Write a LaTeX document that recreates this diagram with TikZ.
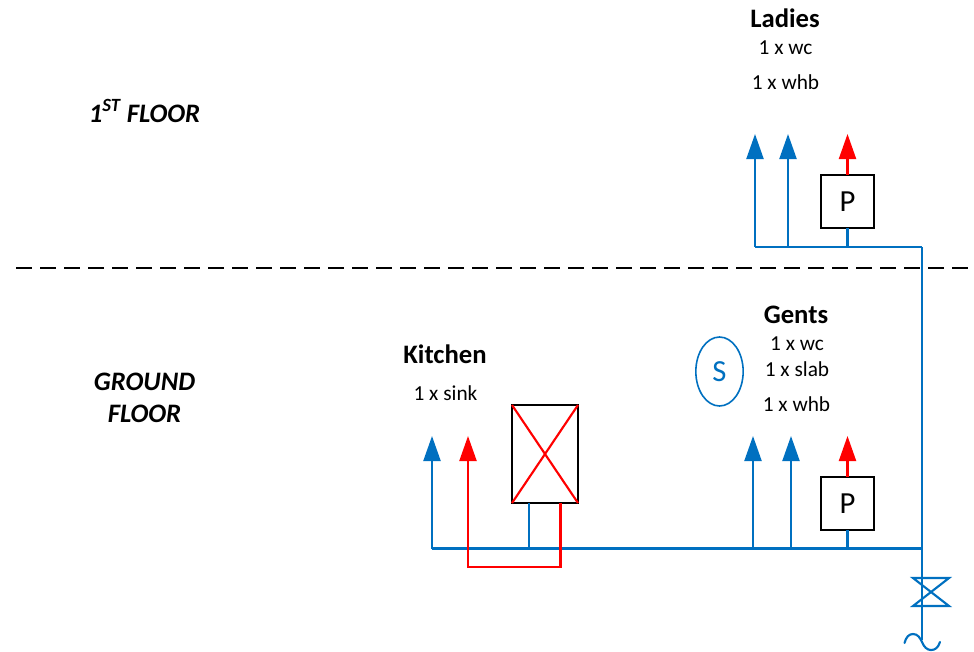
\documentclass[tikz,border=0pt]{standalone}
\usepackage{fontspec}
\setmainfont{Carlito}
\usetikzlibrary{arrows.meta,shapes.geometric}
\definecolor{pipeblue}{RGB}{0,112,192}
\definecolor{pipered}{RGB}{255,0,0}
\tikzset{
  coldpipe/.style={draw=pipeblue,line width=1.6pt,line join=miter},
  hotpipe/.style={draw=pipered,line width=1.6pt,line join=miter},
  coldrise/.style={coldpipe,-{Triangle[length=18.75pt,width=12.75pt,color=pipeblue]}},
  hotrise/.style={hotpipe,-{Triangle[length=18.75pt,width=12.75pt,color=pipered]}},
  pumpbox/.style={draw=black,line width=1.6pt,minimum width=39.75pt,minimum height=39.75pt,inner sep=0pt,outer sep=0pt,font=\fontsize{23}{25}\selectfont},
  heaterbox/.style={draw=black,line width=1.8pt,minimum width=49.5pt,minimum height=73.5pt,inner sep=0pt,outer sep=0pt},
  sensor/.style={draw=pipeblue,line width=1.2pt,ellipse,minimum width=35.5pt,minimum height=51.75pt,inner sep=0pt,outer sep=0pt,text=pipeblue,font=\fontsize{23}{25}\selectfont},
  roomtitle/.style={anchor=base,inner sep=0pt,font=\fontsize{20}{22}\selectfont\bfseries},
  fixture/.style={anchor=base,inner sep=0pt,font=\fontsize{16}{18}\selectfont},
  floorname/.style={anchor=base,inner sep=0pt,font=\fontsize{20}{22}\selectfont\bfseries\itshape},
}
\begin{document}
\begin{tikzpicture}[x=0.75pt,y=-0.75pt]
\useasboundingbox (0,0) rectangle (974,651);
% floor divider
\coordinate (divL) at (16,268);
\coordinate (divR) at (968,268);
\draw[black,line width=1.2pt,dash pattern=on 12pt off 6pt] (divL) -- (divR);
% floor labels
\node[floorname] (first) at (144.5,122) {1\textsuperscript{ST} FLOOR};
\node[floorname] (ground) at (144.5,390) {GROUND};
\node[floorname] (floor) at (144.5,422) {FLOOR};
% room labels
\node[roomtitle] (ladies) at (785,27) {Ladies};
\node[fixture] (lwc) at (785.5,54) {1 x wc};
\node[fixture] (lwhb) at (785.5,89) {1 x whb};
\node[roomtitle] (gents) at (796,323) {Gents};
\node[fixture] (gwc) at (797,350.5) {1 x wc};
\node[fixture] (gslab) at (797,376) {1 x slab};
\node[fixture] (gwhb) at (796.5,411) {1 x whb};
\node[roomtitle] (kitchen) at (445,363) {Kitchen};
\node[fixture] (ksink) at (445.5,400) {1 x sink};
% equipment
\node[pumpbox] (p1) at (847.5,201.5) {P};
\node[pumpbox] (p2) at (847.5,503.5) {P};
\node[heaterbox] (heater) at (545,454) {};
\node[sensor] (s) at (719.5,371.5) {S};
\draw[hotpipe] (heater.north west) -- (heater.south east);
\draw[hotpipe] (heater.north east) -- (heater.south west);
% first floor pipework
\coordinate (m1a) at (755,246.8);
\coordinate (m1b) at (788,246.8);
\coordinate (m1c) at (847.5,246.8);
\coordinate (m1d) at (922.3,246.8);
\coordinate (t1a) at (755,134);
\coordinate (t1b) at (788,134);
\coordinate (t1c) at (847.5,134);
\draw[coldpipe] (m1a) -- (m1d);
\draw[coldrise] (m1a) -- (t1a);
\draw[coldrise] (m1b) -- (t1b);
\draw[coldpipe] (m1c) -- (p1.south);
\draw[hotrise] (p1.north) -- (t1c);
% ground floor pipework
\coordinate (m2a) at (432,548.5);
\coordinate (m2h) at (529,548.5);
\coordinate (m2b) at (753,548.5);
\coordinate (m2c) at (791,548.5);
\coordinate (m2d) at (847.5,548.5);
\coordinate (m2e) at (922.3,548.5);
\coordinate (t2a) at (432,436);
\coordinate (t2k) at (468,436);
\coordinate (t2b) at (753,436);
\coordinate (t2c) at (791,436);
\coordinate (t2d) at (847.5,436);
\coordinate (hc) at (529,503);
\coordinate (hh) at (560.5,503);
\coordinate (r1) at (560.5,567);
\coordinate (r2) at (468,567);
\draw[coldpipe] (m2a) -- (m2e);
\draw[coldrise] (m2a) -- (t2a);
\draw[coldrise] (m2b) -- (t2b);
\draw[coldrise] (m2c) -- (t2c);
\draw[coldpipe] (m2d) -- (p2.south);
\draw[hotrise] (p2.north) -- (t2d);
\draw[coldpipe] (m2h) -- (hc);
\draw[hotrise] (hh) -- (r1) -- (r2) -- (t2k);
% riser, valve, incoming main
\coordinate (ve) at (922.3,640);
\draw[coldpipe] (m1d) -- (ve);
\draw[coldpipe] (913,578) -- (949,578) -- (913,606) -- (949,606) -- cycle;
\draw[coldpipe,line cap=round] (904.5,643) .. controls (906,637) and (909,634) .. (913,634) .. controls (918,634) and (920,638) .. (922,642) .. controls (924,647) and (927,650) .. (931,650) .. controls (935,650) and (938,648) .. (940,642);
\end{tikzpicture}
\end{document}
